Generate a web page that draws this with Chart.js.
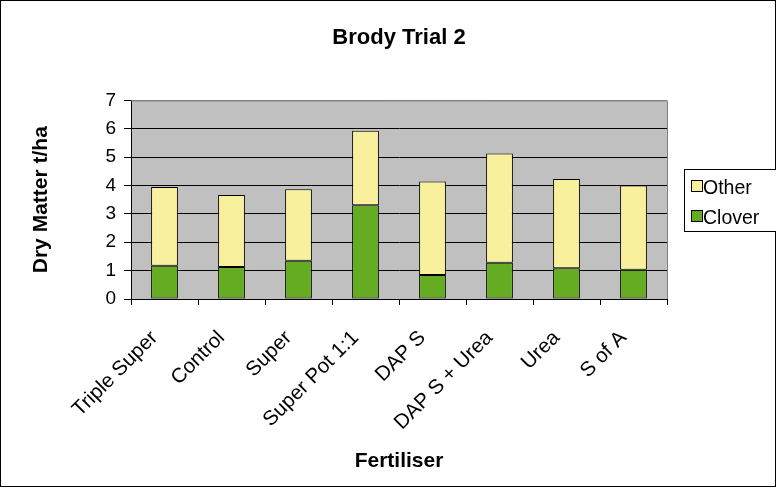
<!DOCTYPE html>
<html><head><meta charset="utf-8">
<script src="https://cdn.jsdelivr.net/npm/chart.js@4"></script>
<style>html,body{margin:0;padding:0;background:#fff}canvas{display:block}</style>
</head><body>
<canvas id="c" width="776" height="487"></canvas>
<script>
const categories = ['Triple Super','Control','Super','Super Pot 1:1','DAP S','DAP S + Urea','Urea','S of A'];
const clover = [1.17,1.13,1.35,3.30,0.85,1.28,1.08,1.03];
const other = [2.78,2.54,2.52,2.63,3.29,3.85,3.15,2.97];
const yTicks = [0,1,2,3,4,5,6,7];

const FONT = 'Arial, "Liberation Sans", sans-serif';

const frame = {
  id: 'frame',
  beforeDraw(chart) {
    const {ctx, chartArea: a} = chart;
    ctx.save();
    ctx.fillStyle = '#fff';
    ctx.fillRect(0, 0, chart.width, chart.height);
    ctx.fillStyle = '#C0C0C0';
    ctx.fillRect(a.left, a.top, a.right - a.left, a.bottom - a.top);
    ctx.restore();
  },
  beforeDatasetsDraw(chart) {
    const {ctx, chartArea: a} = chart;
    ctx.save();
    ctx.strokeStyle = '#808080';
    ctx.lineWidth = 1;
    ctx.beginPath();
    ctx.moveTo(a.left, a.top + 0.5);
    ctx.lineTo(a.right + 0.5, a.top + 0.5);
    ctx.lineTo(a.right + 0.5, a.bottom);
    ctx.stroke();
    ctx.restore();
  },
  afterDraw(chart) {
    const {ctx} = chart;
    ctx.save();
    ctx.strokeStyle = '#000';
    ctx.lineWidth = 1;
    ctx.strokeRect(0.5, 0.5, chart.width - 1, chart.height - 1);
    const lx = 684, ly = 169, lw = 100, lh = 62;
    ctx.fillStyle = '#fff';
    ctx.fillRect(lx, ly, lw, lh);
    ctx.strokeRect(lx + 0.5, ly + 0.5, lw, lh);
    const ds = chart.data.datasets.slice().reverse();
    ctx.font = '19.5px ' + FONT;
    ctx.textBaseline = 'alphabetic';
    ds.forEach((d, i) => {
      const top = 180 + i * 30;
      ctx.fillStyle = d.backgroundColor;
      ctx.fillRect(691.5, top + 0.5, 11, 11);
      ctx.strokeStyle = '#000';
      ctx.strokeRect(691.5, top + 0.5, 11, 11);
      ctx.fillStyle = '#000';
      ctx.fillText(d.label, 703, top + 14);
    });
    ctx.restore();
  }
};

new Chart(document.getElementById('c'), {
  type: 'bar',
  data: {
    labels: categories,
    datasets: [
      {label: 'Clover', data: clover, backgroundColor: '#66AC22', borderColor: '#000', borderWidth: 1, borderSkipped: false},
      {label: 'Other', data: other, backgroundColor: '#F8F09C', borderColor: '#000', borderWidth: 1, borderSkipped: false}
    ]
  },
  options: {
    responsive: false,
    devicePixelRatio: 1,
    animation: false,
    layout: {padding: {left: 0, right: 109, top: 0, bottom: 0}},
    datasets: {bar: {barPercentage: 0.4, categoryPercentage: 1.0}},
    plugins: {
      legend: {display: false},
      tooltip: {enabled: false},
      title: {
        display: true, fullSize: false, text: 'Brody Trial 2', color: '#000',
        font: {family: FONT, size: 22, weight: 'bold'},
        padding: {top: 25, bottom: 49}
      }
    },
    scales: {
      x: {
        stacked: true,
        afterFit(s) { s.height = 188; },
        grid: {display: true, drawOnChartArea: false, drawTicks: true, tickLength: 6, color: '#000', offset: true},
        border: {display: true, color: '#000'},
        ticks: {color: '#000', font: {family: FONT, size: 20.5}, maxRotation: 45, minRotation: 45, padding: 21, labelOffset: -10, autoSkip: false},
        title: {display: true, text: 'Fertiliser', color: '#000', font: {family: FONT, size: 21, weight: 'bold'}, padding: {top: 0, bottom: 13}}
      },
      y: {
        stacked: true,
        min: 0, max: 7,
        afterFit(s) { s.width = 131; },
        afterBuildTicks(s) { s.ticks = yTicks.map(v => ({value: v})); },
        grid: {color: ctx => (ctx.tick && ctx.tick.value === 7) ? '#808080' : '#000', tickColor: '#000', tickLength: 7},
        border: {display: true, color: '#000'},
        ticks: {color: '#000', font: {family: FONT, size: 19}, padding: 8},
        title: {display: true, text: 'Dry Matter t/ha', color: '#000', font: {family: FONT, size: 21, weight: 'bold'}, padding: {top: 29, bottom: 0}}
      }
    }
  },
  plugins: [frame]
});
</script>
</body></html>
